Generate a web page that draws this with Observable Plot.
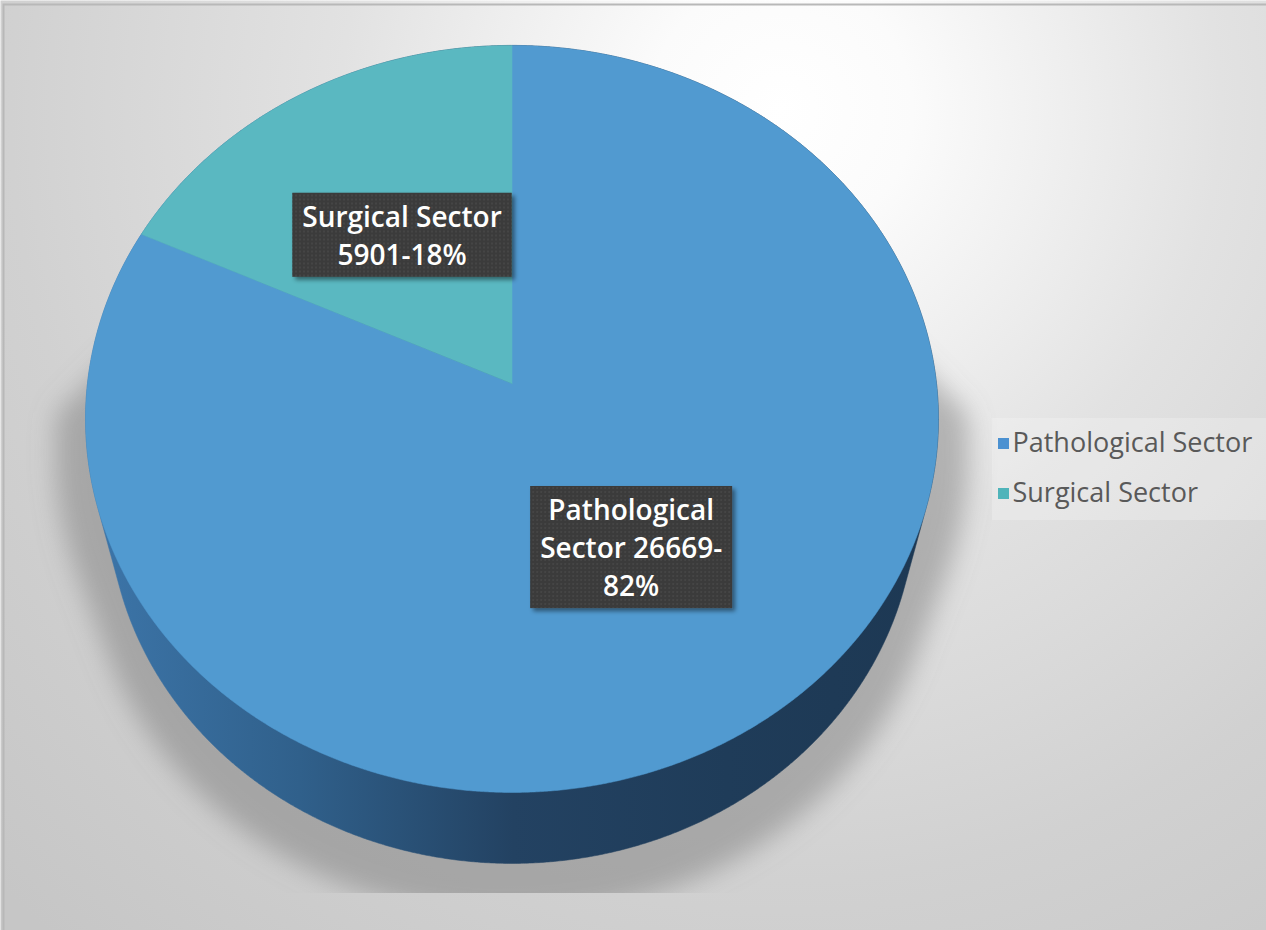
<!DOCTYPE html>
<html><head><meta charset="utf-8">
<script src="https://cdn.jsdelivr.net/npm/d3@7"></script>
<script src="https://cdn.jsdelivr.net/npm/@observablehq/plot@0.6"></script>
<style>html,body{margin:0;padding:0;background:#fff;overflow:hidden}</style>
</head><body><div id="chart"></div>
<script>
// ---- data ----
const categories = ["Pathological Sector", "Surgical Sector"];
const values = [26669, 5901];
const percents = ["82%", "18%"];
const labelLines = ["Pathological\nSector 26669-\n82%", "Surgical Sector\n5901-18%"];

// ---- style / layout ----
const W = 1266, H = 930;
const sliceColors = ["#519ad0", "#5ab8c1"];
const legendColors = ["#4b91d1", "#4fb4ba"];
const SHADOW = "#7c7c7d", LABEL = "#fffffe";
const geo = {cx: 511.5, cy: 383, f: 424.5, k: 0.194, ca: 0.489, sa: 0.872, depth: 0.438, hp: 0.75};
const labelRadius = 0.5;
const legend = {x: 1003, y: 443, step: 50};

function project(theta, r, h) {
  const X = r * Math.sin(theta), Z = -r * Math.cos(theta);
  const d = 1 + geo.hp * h * geo.k * geo.sa - Z * geo.k * geo.ca;
  return {x: geo.cx + geo.f * X / d, y: geo.cy + geo.f * (h * geo.ca + Z * geo.sa) / d};
}

const arcs = d3.pie().sort(null).value(d => d)(values);
const step = Math.PI / 720;

// top face
const topFace = [];
arcs.forEach((a, i) => {
  const cat = categories[i];
  topFace.push({cat, ...project(0, 0, 0)});
  for (let t = a.startAngle; t < a.endAngle; t += step) topFace.push({cat, ...project(t, 1, 0)});
  topFace.push({cat, ...project(a.endAngle, 1, 0)});
  topFace.push({cat, ...project(0, 0, 0)});
});

// side (hull of top and bottom rims)
const rim = [];
for (let t = 0; t < 2 * Math.PI; t += step) {
  const p = project(t, 1, 0), q = project(t, 1, geo.depth);
  rim.push([p.x, p.y], [q.x, q.y]);
}
const sideHull = d3.polygonHull(rim);
sideHull.push(sideHull[0]);
const side = sideHull.map(([x, y]) => ({x, y}));

// shadow
const sh = [];
for (let t = 0; t < 2 * Math.PI; t += step) {
  const q = project(t, 1.07, geo.depth * 1.25);
  sh.push([q.x, q.y + 6]);
  if (t >= Math.PI / 2 && t <= 1.5 * Math.PI) { const p = project(t, 1.07, 0); sh.push([p.x, p.y + 28]); }
}
const shHull = d3.polygonHull(sh); shHull.push(shHull[0]);
const shadow = shHull.map(([x, y]) => ({x, y}));

// labels
const labels = arcs.map((a, i) => ({text: labelLines[i], ...project((a.startAngle + a.endAngle) / 2, labelRadius, 0)}));

// legend
const legendData = categories.map((c, i) => ({cat: c, x: legend.x, y: legend.y + i * legend.step, color: legendColors[i]}));

const defs = () => {
  const d = d3.create("svg:defs");
  const bg = d.append("radialGradient").attr("id", "bg").attr("gradientUnits", "userSpaceOnUse")
    .attr("cx", 780).attr("cy", 110).attr("r", 1100);
  [[0, "#ffffff"], [0.12, "#fbfbfb"], [0.4, "#e2e2e2"], [0.7, "#d1d1d1"], [1, "#c6c6c6"]]
    .forEach(([o, c]) => bg.append("stop").attr("offset", o).attr("stop-color", c));
  const sg = d.append("linearGradient").attr("id", "side").attr("gradientUnits", "userSpaceOnUse")
    .attr("x1", 85).attr("x2", 940).attr("y1", 0).attr("y2", 0);
  [[0, "#3d76aa"], [0.25, "#30608b"], [0.5, "#234262"], [0.75, "#1f3c59"], [1, "#1d3853"]]
    .forEach(([o, c]) => sg.append("stop").attr("offset", o).attr("stop-color", c));
  const blur = d.append("filter").attr("id", "blur").attr("x", "-20%").attr("y", "-20%").attr("width", "140%").attr("height", "140%");
  blur.append("feGaussianBlur").attr("stdDeviation", 13);
  const ds = d.append("filter").attr("id", "drop").attr("x", "-10%").attr("y", "-10%").attr("width", "130%").attr("height", "130%");
  ds.append("feDropShadow").attr("dx", 3).attr("dy", 3).attr("stdDeviation", 2).attr("flood-color", "#000").attr("flood-opacity", 0.45);
  const pat = d.append("pattern").attr("id", "dots").attr("width", 4).attr("height", 4).attr("patternUnits", "userSpaceOnUse");
  pat.append("rect").attr("width", 4).attr("height", 4).attr("fill", "#3a3a3a");
  pat.append("circle").attr("cx", 2).attr("cy", 2).attr("r", 0.9).attr("fill", "#4a4a4a");
  d.append("clipPath").attr("id", "floor").append("rect").attr("x", 0).attr("y", 0).attr("width", W).attr("height", 893);
  return d.node();
};

const chart = Plot.plot({
  width: W, height: H, margin: 0,
  x: {domain: [0, W], range: [0, W], axis: null},
  y: {domain: [0, H], range: [0, H], axis: null},
  color: {domain: categories, range: sliceColors},
  style: {background: "#fff"},
  marks: [
    defs,
    Plot.frame({fill: "url(#bg)", stroke: null}),
    Plot.frame({stroke: "#b8b8b8", strokeWidth: 2, insetLeft: 3, insetTop: 4, insetRight: -5, insetBottom: -5}),
    Plot.line(shadow, {x: "x", y: "y", fill: SHADOW, fillOpacity: 0.5, stroke: "none"}),
    Plot.line(side, {x: "x", y: "y", fill: "url(#side)", stroke: "url(#side)", strokeWidth: 0.5}),
    Plot.line(topFace, {x: "x", y: "y", z: "cat", fill: "cat", stroke: "cat", strokeWidth: 0.5}),
    Plot.text(labels, {x: "x", y: "y", text: "text", fill: LABEL, fontSize: 28, fontWeight: 600,
      fontFamily: "Open Sans", lineHeight: 1.36}),
    Plot.rect([0], {x1: () => legend.x - 11, x2: W, y1: legend.y - 25, y2: legend.y + legend.step + 27, fill: "#ffffff", fillOpacity: 0.22}),
    Plot.dot(legendData, {x: "x", y: "y", symbol: "square", r: 6.2, fill: "color", stroke: null}),
    Plot.text(legendData, {x: d => d.x + 9, y: "y", text: "cat", textAnchor: "start", fill: "#595959", fontSize: 27, fontFamily: "Open Sans"})
  ]
});
document.getElementById("chart").appendChild(chart);

const NS = "http://www.w3.org/2000/svg";
// blur + clip shadow
const shEl = chart.querySelector(`[fill="${SHADOW}"]`);
if (shEl) {
  const shG = shEl.closest("g") || shEl;
  shG.setAttribute("filter", "url(#blur)");
  const wrap = document.createElementNS(NS, "g");
  wrap.setAttribute("clip-path", "url(#floor)");
  shG.parentNode.insertBefore(wrap, shG);
  wrap.appendChild(shG);
}
// label boxes
const lbHost = chart.querySelector(`[fill="${LABEL}"]`);
if (lbHost) {
  const lg = lbHost.closest("g") || lbHost;
  const texts = lg.tagName === "text" ? [lg] : Array.from(lg.querySelectorAll("text"));
  const boxG = document.createElementNS(NS, "g");
  if (lg.getAttribute("transform")) boxG.setAttribute("transform", lg.getAttribute("transform"));
  lg.parentNode.insertBefore(boxG, lg);
  texts.forEach(el => {
    const b = el.getBBox();
    const r = d3.select(boxG).append("rect").attr("x", b.x - 10).attr("y", b.y - 4).attr("width", b.width + 20).attr("height", b.height + 8)
      .attr("fill", "url(#dots)").attr("filter", "url(#drop)");
    if (el.getAttribute("transform")) r.attr("transform", el.getAttribute("transform"));
  });
}
</script>
</body></html>
